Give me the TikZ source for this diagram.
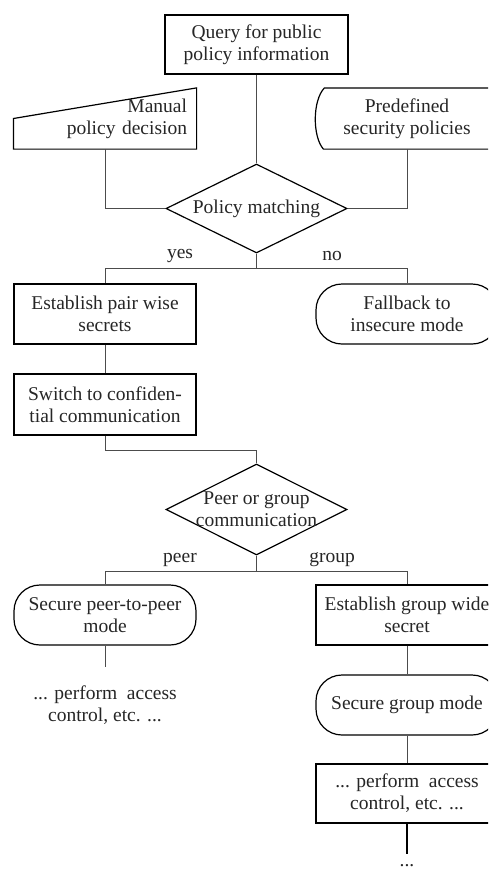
\documentclass[tikz,border=0pt]{standalone}
\usepackage{fontspec}
\setmainfont{Liberation Serif}
\usetikzlibrary{
    calc,
    shapes.geometric
}
\tikzset{
    every node/.style={font=\fontsize{19.5}{22}\selectfont, text=black!85},
    % plain process box
    box/.style={draw, line width=1.2pt, minimum width=182pt, minimum height=60pt,
        align=center, inner sep=2pt},
    % terminal box with round ends
    roundbox/.style={box, rounded corners=26pt},
    % decision diamond, text is put in as a centre label
    decision/.style={diamond, draw, line width=1.2pt, minimum width=181pt,
        minimum height=89pt, inner sep=0pt},
    link/.style={line width=0.8pt, black!70}
}

\begin{document}
\begin{tikzpicture}[x=1pt, y=-1pt]
            \path[use as bounding box, clip] (0,0) rectangle (488,873);
            % top part
            \node[box, minimum width=183pt, minimum height=59pt] (query) at (256.5,44.5)
                {Query for public\\policy information};
            \node[box, draw=none, text width=164pt, align=right, inner sep=9pt] (man) at (105,118.5)
                {Manual\\policy decision};
            \draw[line width=1.2pt] (man.south west) -- (man.south east)
                -- (man.north east) -- (man.west) -- cycle;
            \node[box, draw=none] (pre) at (407,118.5) {Predefined\\security policies};
            \draw[line width=1.2pt] (pre.north east) -- ($(pre.north west)+(9,0)$)
                .. controls ($(pre.west)+(-3,-18)$) and ($(pre.west)+(-3,18)$)
                .. ($(pre.south west)+(8,0)$) -- (pre.south east);
            \node[decision, label=center:{Policy matching}] (match) at (256.5,208.5) {};
            \node (yes) at (180,256) {yes};
            \node (no) at (332,256) {no};
            % middle part
            \node[box] (pair) at (105,314) {Establish pair wise\\secrets};
            \node[roundbox] (fall) at (407,314) {Fallback to\\insecure mode};
            \node[box, minimum height=61pt] (switch) at (105,404.5)
                {Switch to confiden-\\tial communication};
            \node[decision, minimum height=91pt,
                label={[align=center]center:Peer or group\\communication}] (peer) at (256.5,509.5) {};
            \node (peerlbl) at (180,560) {peer};
            \node (grouplbl) at (332,560) {group};
            % bottom part
            \node[roundbox] (p2p) at (105,615) {Secure peer-to-peer\\mode};
            \node[align=center] (perfL) at (105,705) {... perform\ \ access\\control, etc. ...};
            \node[box] (gwide) at (407,615) {Establish group wide\\secret};
            \node[roundbox] (gmode) at (407,705) {Secure group mode};
            \node[box, minimum height=59pt] (perfR) at (407,793.5)
                {... perform\ \ access\\control, etc. ...};
            \node[anchor=base] (dots) at (407,866) {...};
            \begin{scope}[link]
                \draw (query) -- (match);
                \draw (man.south) |- (match.west);
                \draw (pre.south) |- (match.east);
                \draw (match.south) -- ++(0,15) coordinate (fork1);
                \draw (fork1) -| (pair.north);
                \draw (fork1) -| (fall.north);
                \draw (pair) -- (switch);
                \draw (switch.south) -- ++(0,15) -| (peer.north);
                \draw (peer.south) -- ++(0,16) coordinate (fork2);
                \draw (fork2) -| (p2p.north);
                \draw (fork2) -| (gwide.north);
                \draw (p2p.south) -- ++(0,21);
                \draw (gwide) -- (gmode);
                \draw (gmode) -- (perfR);
            \end{scope}
            \draw[line width=1.6pt] (perfR.south) -- ++(0,30);
        \end{tikzpicture}
\end{document}
